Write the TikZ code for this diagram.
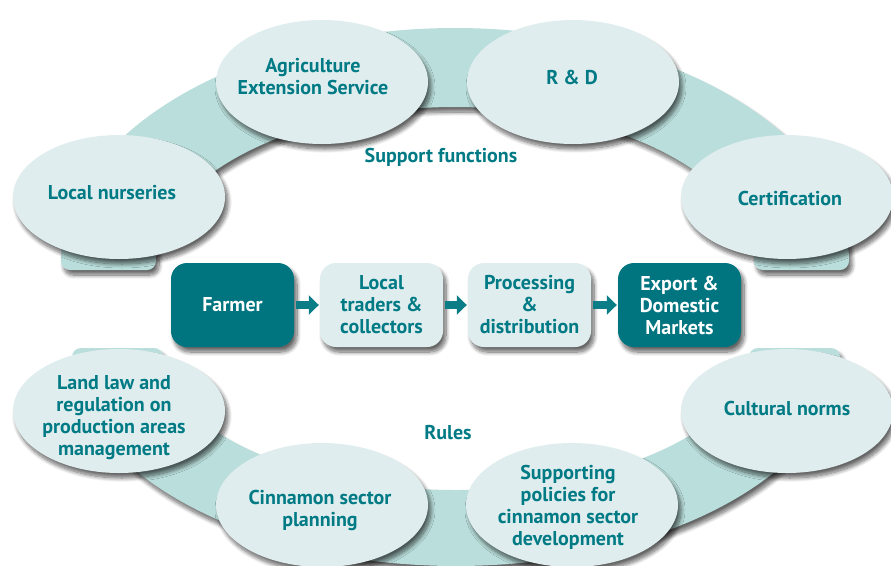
\documentclass[tikz,border=0pt]{standalone}
\usepackage{fontspec}
\setmainfont{PT Sans}
\usetikzlibrary{shapes.geometric,arrows.meta,shadows.blur}
\definecolor{bandc}{HTML}{B9DEDB}
\definecolor{ellfill}{HTML}{E0EDEE}
\definecolor{darkbox}{HTML}{007580}
\definecolor{textc}{HTML}{007A84}
\definecolor{arrc}{HTML}{0B7D87}
\tikzset{
  shd/.style={blur shadow={shadow xshift=3pt, shadow yshift=-5pt, shadow blur radius=4pt, shadow blur steps=10, shadow opacity=60}},
  txt/.style={font=\fontsize{20}{22}\selectfont\bfseries, text=textc, align=center, inner sep=0pt},
  ell/.style={ellipse, fill=ellfill, minimum width=212pt, minimum height=124pt, inner sep=0pt, shd},
  boxdark/.style={rectangle, rounded corners=16pt, fill=darkbox, minimum width=123pt, minimum height=84pt, txt, text=white, shd},
  boxlight/.style={rectangle, rounded corners=16pt, fill=ellfill, minimum width=123pt, minimum height=84pt, txt, shd},
  band/.style={fill=bandc, shd},
  arr/.style={draw=arrc, line width=8pt, -{Triangle[length=10pt,width=19pt]}, shorten <=2pt, shorten >=1pt}
}
\begin{document}
\begin{tikzpicture}[x=1pt,y=-1pt]
\useasboundingbox (0,0) rectangle (891,565);
\clip (0,0) rectangle (891,565);
% bands
\path[band, rounded corners=9pt] (61,270) arc[start angle=180, end angle=360, x radius=394, y radius=242] -- (754,270) arc[start angle=0, end angle=-180, x radius=299, y radius=163] -- cycle;
\path[band, rounded corners=9pt] (72,348) arc[start angle=180, end angle=0, x radius=384, y radius=218] -- (749,348) arc[start angle=0, end angle=180, x radius=293, y radius=142] -- cycle;
% support functions
\node[ell] (nurs) at (119,197) {};
\node[ell] (ext) at (322,82) {};
\node[ell] (rd) at (573,82) {};
\node[ell] (cert) at (787,197) {};
\node[txt] (nurs-t) at (112,193) {Local nurseries};
\node[txt] (ext-t) at (313,77) {Agriculture\\Extension Service};
\node[txt] (rd-t) at (572,77) {R \& D};
\node[txt] (cert-t) at (790,198) {Certification};
\node[txt] (supp) at (441,157) {Support functions};
% rules
\node[ell] (land) at (119,411) {};
\node[ell] (cinn) at (322,505) {};
\node[ell] (pol) at (572,505) {};
\node[ell] (cult) at (787,411) {};
\node[txt] (land-t) at (114,418) {Land law and\\regulation on\\production areas\\management};
\node[txt] (cinn-t) at (320,510) {Cinnamon sector\\planning};
\node[txt] (pol-t) at (568,507) {Supporting\\policies for\\cinnamon sector\\development};
\node[txt] (cult-t) at (787,408) {Cultural norms};
\node[txt] (rules) at (448,433) {Rules};
% chain
\node[boxdark] (farmer) at (232.5,305) {Farmer};
\node[boxlight] (traders) at (381.5,305) {Local\\traders \&\\collectors};
\node[boxlight] (proc) at (529.5,305) {Processing\\\&\\distribution};
\node[boxdark] (exp) at (679.5,305) {Export \&\\Domestic\\Markets};
\draw[arr] (farmer) -- (traders);
\draw[arr] (traders) -- (proc);
\draw[arr] (proc) -- (exp);
\end{tikzpicture}
\end{document}
